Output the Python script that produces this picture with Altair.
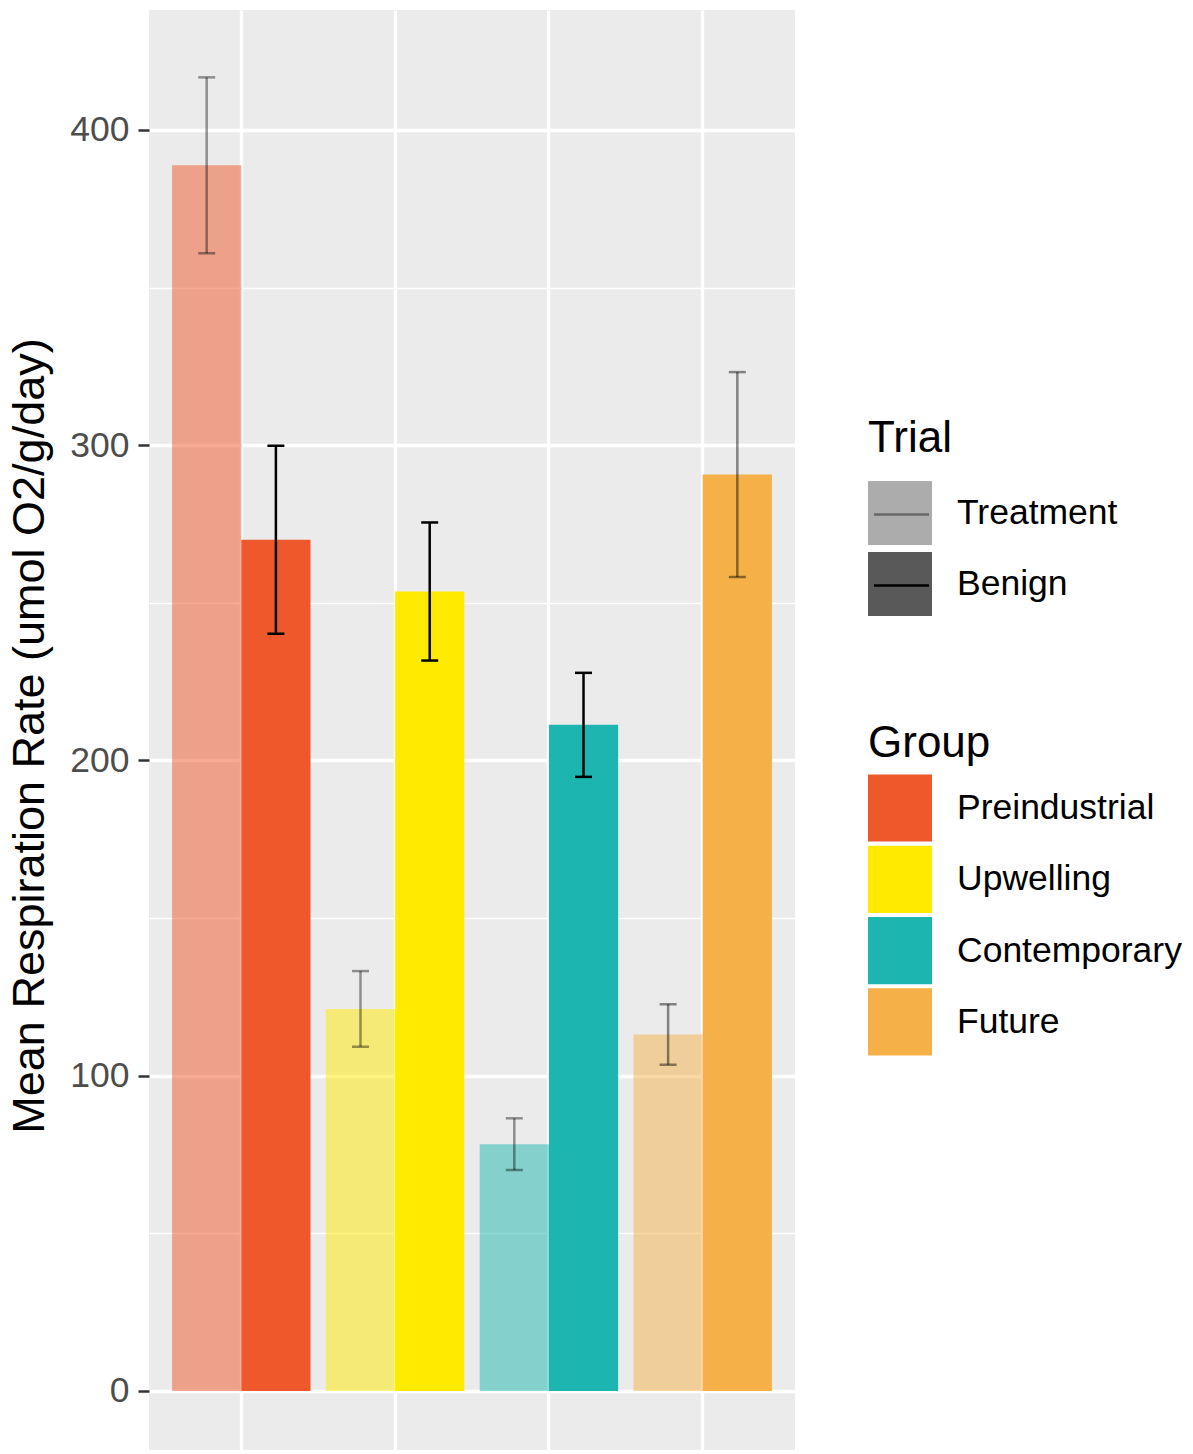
import altair as alt
import pandas as pd

# Respiration rates by acclimation group and trial
groups = ["Preindustrial", "Upwelling", "Contemporary", "Future"]
trials = ["Treatment", "Benign"]
group_colors = ["#EF582A", "#FFEA00", "#1DB5AF", "#F5B147"]

treatment_mean = [388.8, 121.2, 78.3, 113.1]
treatment_se = [27.9, 12.0, 8.2, 9.6]
benign_mean = [270.0, 253.6, 211.3, 290.7]
benign_se = [29.8, 21.9, 16.5, 32.5]

y_ticks = [0, 50, 100, 150, 200, 250, 300, 350, 400]
y_title = "Mean Respiration Rate (umol O2/g/day)"

rows = []
for trial, means, ses in (("Treatment", treatment_mean, treatment_se),
                          ("Benign", benign_mean, benign_se)):
    for g, m, s in zip(groups, means, ses):
        rows.append({"Group": g, "Trial": trial, "Mean": m, "SE": s})
df = pd.DataFrame(rows)
df["Lower"] = df["Mean"] - df["SE"]
df["Upper"] = df["Mean"] + df["SE"]

FONT = "Liberation Sans"
LABEL_SIZE = 35.5
TITLE_SIZE = 44
PLOT_W, PLOT_H = 646, 1440
PAD_LEFT, PAD_TOP = 149, 10

y_scale = alt.Scale(domain=[-18.72, 438.06], nice=False, zero=False)
major = "datum.value % 100 === 0"

x_enc = alt.X(
    "Group:N", sort=groups,
    scale=alt.Scale(paddingInner=0.1, paddingOuter=0.15),
    axis=alt.Axis(title=None, labels=False, ticks=False, domain=False,
                  grid=True, gridColor="white", gridWidth=3.3, bandPosition=0.5),
)
xoff_enc = alt.XOffset("Trial:N", sort=trials,
                       scale=alt.Scale(domain=trials, paddingInner=0, paddingOuter=0))

y_axis = alt.Axis(
    values=y_ticks,
    labelExpr=f"{major} ? datum.label : ''",
    grid=True, gridColor="white",
    gridWidth={"condition": {"test": major, "value": 3.3}, "value": 1.6},
    tickOpacity={"condition": {"test": major, "value": 1}, "value": 0},
    tickSize=11, tickWidth=2.5, tickColor="#333333",
    labelFontSize=LABEL_SIZE, labelColor="#4D4D4D", labelPadding=9, labelFont=FONT,
    domain=False,
    titleFontSize=45, titleFontWeight="normal", titleColor="black", titleFont=FONT,
    titleAngle=270, titleAlign="center", titleBaseline="alphabetic",
    titleX=-106, titleY=725.5,
)

legend_text = dict(
    orient="none", direction="vertical", padding=0,
    titleFont=FONT, titleFontSize=TITLE_SIZE, titleFontWeight="normal", titleColor="black",
    labelFont=FONT, labelFontSize=LABEL_SIZE, labelColor="black", labelOffset=25,
    labelLimit=0, symbolSize=4096,
)

bars = alt.Chart(df).mark_bar().encode(
    x=x_enc,
    xOffset=xoff_enc,
    y=alt.Y("Mean:Q", stack=None, scale=y_scale, axis=y_axis, title=y_title),
    y2=alt.Y2(datum=0),
    color=alt.Color(
        "Group:N", sort=groups,
        scale=alt.Scale(domain=groups, range=group_colors),
        legend=alt.Legend(title="Group", legendX=719, legendY=711.5,
                          symbolType="M-1,-1.05H1V1.05H-1Z", symbolStrokeWidth=0,
                          symbolOpacity=1,
                          titlePadding=10.5, rowPadding=3.3, **legend_text),
    ),
    opacity=alt.Opacity(
        "Trial:N", sort=trials,
        scale=alt.Scale(domain=trials, range=[0.5, 1.0]),
        legend=alt.Legend(title="Trial", legendX=719, legendY=407,
                          symbolType="square", symbolFillColor="#595959",
                          symbolStrokeWidth=0,
                          titlePadding=20, rowPadding=7, **legend_text),
    ),
)

# error bars: lighter for the treatment trial
err_scale = alt.Scale(domain=trials, range=[0.4, 1.0])
faded = "datum.Group === 'Future'"
err_opacity_legend = alt.condition(
    faded, alt.value(0.45),
    alt.Opacity("Trial:N", sort=trials, scale=err_scale,
                legend=alt.Legend(title=None, legendX=719, legendY=471,
                                  symbolType="M-1,-1M1,1M-0.86,0H0.86",
                                  symbolStrokeColor="black", symbolStrokeWidth=2.5,
                                  symbolFillColor="transparent",
                                  labelExpr="''", rowPadding=-5.5, zindex=1,
                                  orient="none", direction="vertical", padding=0,
                                  symbolSize=4096)),
)
err_opacity = alt.condition(
    faded, alt.value(0.45),
    alt.Opacity("Trial:N", sort=trials, scale=err_scale, legend=None),
)

rule = alt.Chart(df).mark_rule(color="black", strokeWidth=2.5).encode(
    x=x_enc, xOffset=xoff_enc,
    y=alt.Y("Lower:Q", scale=y_scale, title=y_title),
    y2="Upper:Q",
    opacity=err_opacity_legend,
)
cap_lo = alt.Chart(df).mark_tick(color="black", thickness=2.5, size=17).encode(
    x=x_enc, xOffset=xoff_enc,
    y=alt.Y("Lower:Q", scale=y_scale, title=y_title),
    opacity=err_opacity,
)
cap_hi = alt.Chart(df).mark_tick(color="black", thickness=2.5, size=17).encode(
    x=x_enc, xOffset=xoff_enc,
    y=alt.Y("Upper:Q", scale=y_scale, title=y_title),
    opacity=err_opacity,
)

chart = (
    alt.layer(bars, alt.layer(rule, cap_lo, cap_hi))
    .resolve_scale(opacity="independent")
    .properties(
        width=PLOT_W, height=PLOT_H,
        autosize="none",
        padding={"left": PAD_LEFT, "top": PAD_TOP, "right": 1193 - PAD_LEFT - PLOT_W, "bottom": 0},
    )
    .configure(font=FONT)
    .configure_view(fill="#EBEBEB", strokeWidth=0)
)

chart.save("out.html", embed_options={"renderer": "svg", "actions": False})
